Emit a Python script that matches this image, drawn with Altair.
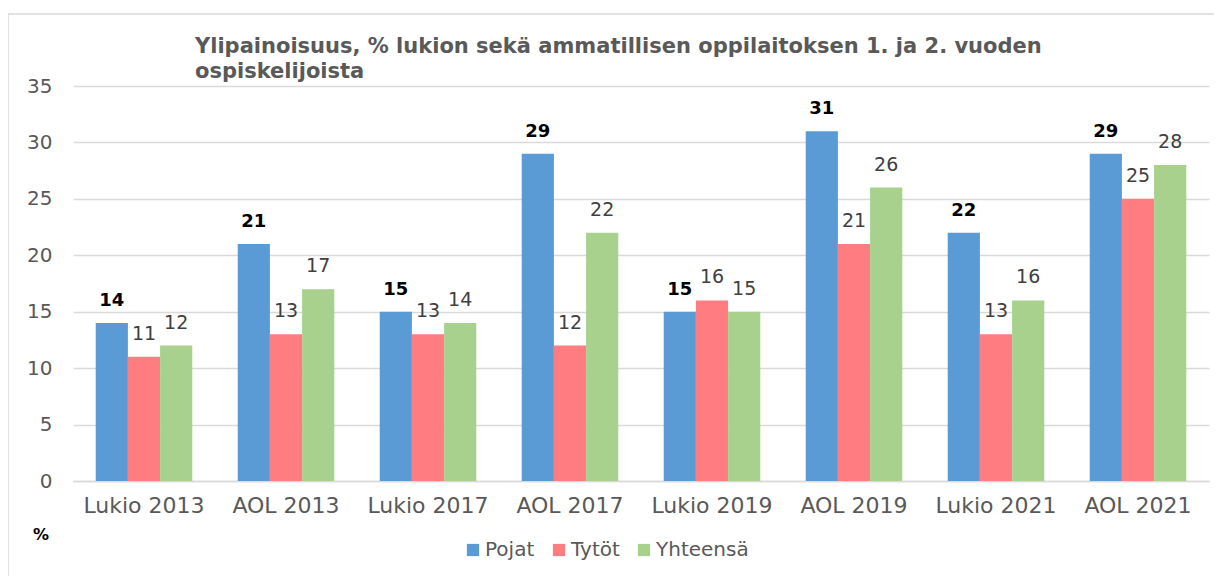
import altair as alt
import pandas as pd

categories = ["Lukio 2013", "AOL 2013", "Lukio 2017", "AOL 2017",
              "Lukio 2019", "AOL 2019", "Lukio 2021", "AOL 2021"]
series = ["Pojat", "Tytöt", "Yhteensä"]
pojat = [14, 21, 15, 29, 15, 31, 22, 29]
tytot = [11, 13, 13, 12, 16, 21, 13, 25]
yhteensa = [12, 17, 14, 22, 15, 26, 16, 28]
colors = ["#5B9BD5", "#FF7C80", "#A9D18E"]
y_ticks = [0, 5, 10, 15, 20, 25, 30, 35]
title_lines = ["Ylipainoisuus, %  lukion sekä ammatillisen oppilaitoksen 1. ja 2. vuoden",
               "ospiskelijoista"]

rows = []
for name, vals in zip(series, [pojat, tytot, yhteensa]):
    for c, v in zip(categories, vals):
        rows.append({"cat": c, "series": name, "value": v})
df = pd.DataFrame(rows)

FONT = "DejaVu Sans"
W, H = 1136, 395

x = alt.X("cat:N", sort=categories, title=None,
          scale=alt.Scale(paddingInner=0.32, paddingOuter=0.16),
          axis=alt.Axis(labelAngle=0, labelFontSize=22, labelColor="#595959",
                        labelFont=FONT, ticks=False, labelPadding=14,
                        domainColor="#d9d9d9", domainWidth=1.5, grid=False))
xo = alt.XOffset("series:N", sort=series, scale=alt.Scale(paddingInner=0, paddingOuter=0))
y = alt.Y("value:Q", title=None,
          scale=alt.Scale(domain=[0, 35], nice=False),
          axis=alt.Axis(values=y_ticks, labelFontSize=20, labelColor="#595959",
                        labelFont=FONT, ticks=False, domain=False, labelPadding=21,
                        gridColor="#d9d9d9", gridWidth=1.5))
color = alt.Color("series:N", sort=series,
                  scale=alt.Scale(domain=series, range=colors),
                  legend=alt.Legend(title=None, orient="none", direction="horizontal",
                                    legendX=390, legendY=454, symbolType="square",
                                    symbolSize=150, symbolStrokeWidth=0,
                                    labelFontSize=20, labelColor="#595959",
                                    labelFont=FONT, columnPadding=14, labelOffset=2))

base = alt.Chart(df)
bars = base.mark_bar().encode(x=x, xOffset=xo, y=y, color=color)

lab_p = base.transform_filter(alt.datum.series == "Pojat").mark_text(
    baseline="bottom", dy=-13, fontSize=18, fontWeight="bold", font=FONT, color="#000000"
).encode(x=x, xOffset=xo, y=y, text="value:Q")
lab_o = base.transform_filter(alt.datum.series != "Pojat").mark_text(
    baseline="bottom", dy=-13, fontSize=19, font=FONT, color="#404040"
).encode(x=x, xOffset=xo, y=y, text="value:Q")

pct = alt.Chart(pd.DataFrame({"t": ["%"]})).mark_text(
    fontSize=16, fontWeight="bold", font=FONT, color="#000000"
).encode(x=alt.value(-32), y=alt.value(449), text="t:N")

ttl = alt.Chart(pd.DataFrame({"t": [0]})).mark_text(
    text=title_lines, align="left", baseline="top", lineHeight=25,
    fontSize=21, fontWeight="bold", font=FONT, color="#595959"
).encode(x=alt.value(122), y=alt.value(-50))

frame = alt.Chart(pd.DataFrame({"t": [0]})).mark_rect(
    fill=None, stroke="#d9d9d9", strokeWidth=1.5
).encode(x=alt.value(-65), x2=alt.value(1142), y=alt.value(-72), y2=alt.value(520))

chart = alt.layer(frame, bars, lab_p, lab_o, pct, ttl).properties(
    width=W, height=H,
    autosize=alt.AutoSizeParams(type="none"),
    padding={"left": 65, "top": 78, "right": 5, "bottom": 95},
).configure_view(stroke=None)

chart.save("out.html", embed_options={"renderer": "svg", "actions": False})
